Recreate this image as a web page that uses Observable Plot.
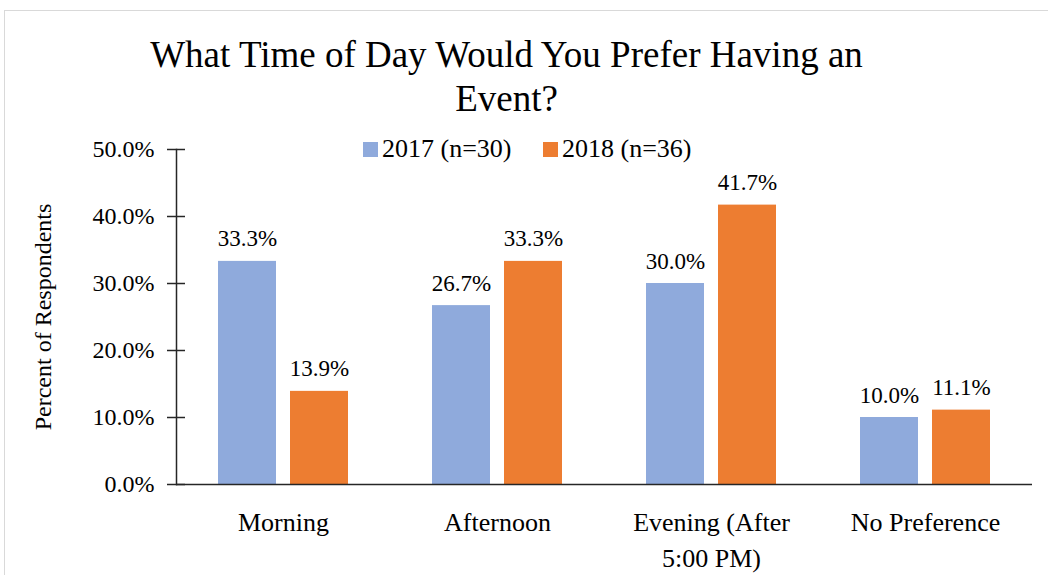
<!DOCTYPE html>
<html>
<head>
<meta charset="utf-8">
<script src="https://cdn.jsdelivr.net/npm/d3@7"></script>
<script src="https://cdn.jsdelivr.net/npm/@observablehq/plot@0.6"></script>
<style>
  body { margin: 0; width: 1049px; height: 576px; position: relative; font-family: 'Times New Roman'; color: #000; }
  #frame { position: absolute; left: 4px; top: 10px; width: 1043px; height: 564px; border-left: 1.5px solid #d9d9d9; border-top: 1.5px solid #d9d9d9; }
  .sw { position: absolute; width: 15px; height: 15px; top: 142px; }
  #chart { position: absolute; left: 0; top: 130px; }
</style>
</head>
<body>
<div id="frame"></div>
<div style="position:absolute; left:0; width:1013px; top:33px; text-align:center; font-family:'Times New Roman'; font-size:37px; line-height:44px">What Time of Day Would You Prefer Having an<br>Event?</div>
<div id="legend"></div>
<div id="chart"></div>
<script>
const categories = ["Morning", "Afternoon", "Evening (After 5:00 PM)", "No Preference"];
const tickLabels = ["Morning", "Afternoon", "Evening (After\n5:00 PM)", "No Preference"];
const series = ["2017 (n=30)", "2018 (n=36)"];
const values2017 = [33.3, 26.7, 30.0, 10.0];
const values2018 = [13.9, 33.3, 41.7, 11.1];
const colors = ["#8faadc", "#ed7d31"];
const yTicks = [0, 10, 20, 30, 40, 50];

const FONT = "'Times New Roman'";

const data = categories.flatMap((c, i) => [
  {category: c, series: series[0], value: values2017[i]},
  {category: c, series: series[1], value: values2018[i]}
]);

// legend
const legend = document.getElementById("legend");
const legendPos = [[363, 382], [543, 562]];
series.forEach((s, i) => {
  const sw = document.createElement("div");
  sw.className = "sw";
  sw.style.left = legendPos[i][0] + "px";
  sw.style.background = colors[i];
  legend.appendChild(sw);
  const t = document.createElement("div");
  t.setAttribute("style", "position:absolute; top:136px; left:" + legendPos[i][1] + "px; font-family:'Times New Roman'; font-size:26px; line-height:26px; white-space:nowrap");
  t.textContent = s;
  legend.appendChild(t);
});

const chart = Plot.plot({
  width: 1049,
  height: 446,
  marginLeft: 174,
  marginRight: 16,
  marginTop: 19,
  marginBottom: 92,
  style: {fontFamily: FONT, fontSize: "24px", color: "#000", background: "transparent", overflow: "visible"},
  fx: {domain: categories, padding: 0, label: null},
  x: {domain: series, paddingInner: 0.19, paddingOuter: 0.58, axis: null},
  y: {domain: [0, 50]},
  color: {domain: series, range: colors},
  marks: [
    Plot.barY(data, {fx: "category", x: "series", y: "value", fill: "series"}),
    Plot.text(data, {fx: "category", x: "series", y: "value", text: d => d.value.toFixed(1) + "%", lineAnchor: "bottom", dy: -15, fontSize: 23, fontFamily: FONT, fill: "#000"}),
    Plot.ruleY([0], {stroke: "#262626", strokeWidth: 1.5}),
    Plot.frame({anchor: "left", facetAnchor: "left", stroke: "#262626", strokeWidth: 1.5}),
    Plot.axisY(yTicks, {tickSize: 9, tickPadding: 13, tickFormat: d => d.toFixed(1) + "%", label: "Percent of Respondents", labelAnchor: "center", labelArrow: "none", labelOffset: 143, fontSize: 24, fontFamily: FONT, stroke: "#262626", strokeWidth: 1.5}),
    Plot.axisY(yTicks, {tickSize: 9, dx: 9, text: null, label: null, stroke: "#262626", strokeWidth: 1.5}),
    Plot.axisFx({anchor: "bottom", tickSize: 0, tickPadding: 22, tickFormat: d => tickLabels[categories.indexOf(d)], label: null, fontSize: 26, fontFamily: FONT, lineHeight: 1.35})
  ]
});
document.getElementById("chart").appendChild(chart);
</script>
</body>
</html>
